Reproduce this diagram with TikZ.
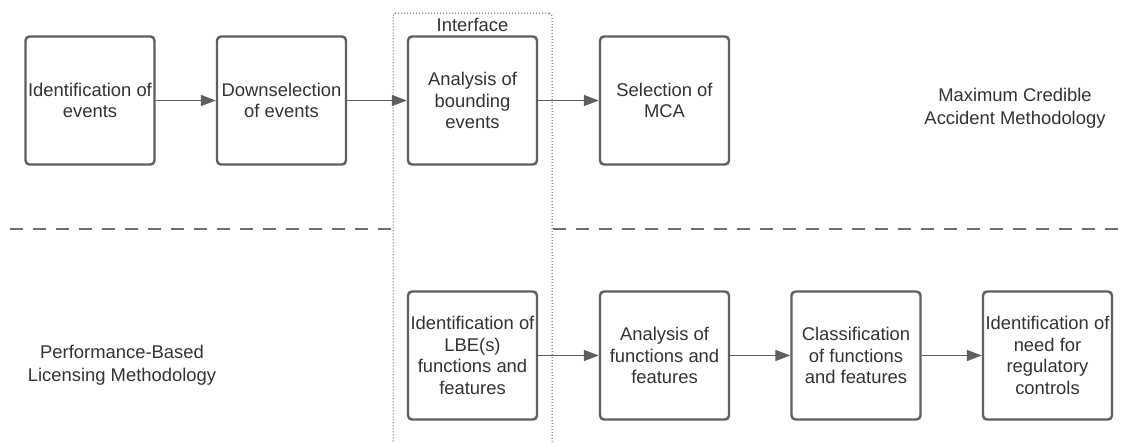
\documentclass[tikz,border=0pt]{standalone}
\usepackage{fontspec}
\setmainfont{Liberation Sans}
\usetikzlibrary{arrows.meta}
\definecolor{boxline}{HTML}{5F5F5F}
\definecolor{txt}{HTML}{333333}
\definecolor{dashc}{HTML}{707070}
\tikzset{
  stepbox/.style={draw=boxline, line width=2.4pt, rounded corners=4pt, minimum width=129pt, minimum height=128pt, align=center, text=txt, inner sep=0pt, font=\fontsize{18.4}{21.5}\selectfont},
  lbl/.style={align=center, text=txt, inner sep=0pt, font=\fontsize{18.4}{22.5}\selectfont},
  flow/.style={draw=boxline, line width=1.6pt, -{Triangle[length=15pt,width=11pt]}},
  sep/.style={draw=dashc, line width=1.8pt, dash pattern=on 13pt off 10pt},
  iface/.style={draw=boxline, line width=1pt, dotted, rounded corners=3pt}
}
\begin{document}
\begin{tikzpicture}[x=1pt,y=-1pt]
\useasboundingbox[fill=white] (0,0) rectangle (1122,442);
% interface region
\node[iface, minimum width=159pt, minimum height=440pt, inner sep=0pt] (ifc) at (472.5,233) {};
\node[lbl] (ifclbl) at (472.5,25) {Interface};
% separator
\coordinate (sepL) at (10,229);
\coordinate (sepR) at (1122,229);
\draw[sep] (sepL) -- (sepL -| ifc.west);
\draw[sep] (sepR -| ifc.east) -- (sepR);
% top row
\node[stepbox] (t1) at (90,100.5) {Identification of\\events};
\node[stepbox] (t2) at (281.5,100.5) {Downselection\\of events};
\node[stepbox] (t3) at (472.5,100.5) {Analysis of\\bounding\\events};
\node[stepbox] (t4) at (664.5,100.5) {Selection of\\MCA};
\node[lbl] (mca) at (1015,108) {Maximum Credible\\Accident Methodology};
% bottom row
\node[stepbox] (b1) at (472.5,355.5) {Identification of\\LBE(s)\\functions and\\features};
\node[stepbox] (b2) at (664.5,355.5) {Analysis of\\functions and\\features};
\node[stepbox] (b3) at (856,355.5) {Classification\\of functions\\and features};
\node[stepbox] (b4) at (1047.5,355.5) {Identification of\\need for\\regulatory\\controls};
\node[lbl] (pbl) at (122,365) {Performance-Based\\Licensing Methodology};
% arrows
\draw[flow] (t1) -- (t2);
\draw[flow] (t2) -- (t3);
\draw[flow] (t3) -- (t4);
\draw[flow] (b1) -- (b2);
\draw[flow] (b2) -- (b3);
\draw[flow] (b3) -- (b4);
\end{tikzpicture}
\end{document}
